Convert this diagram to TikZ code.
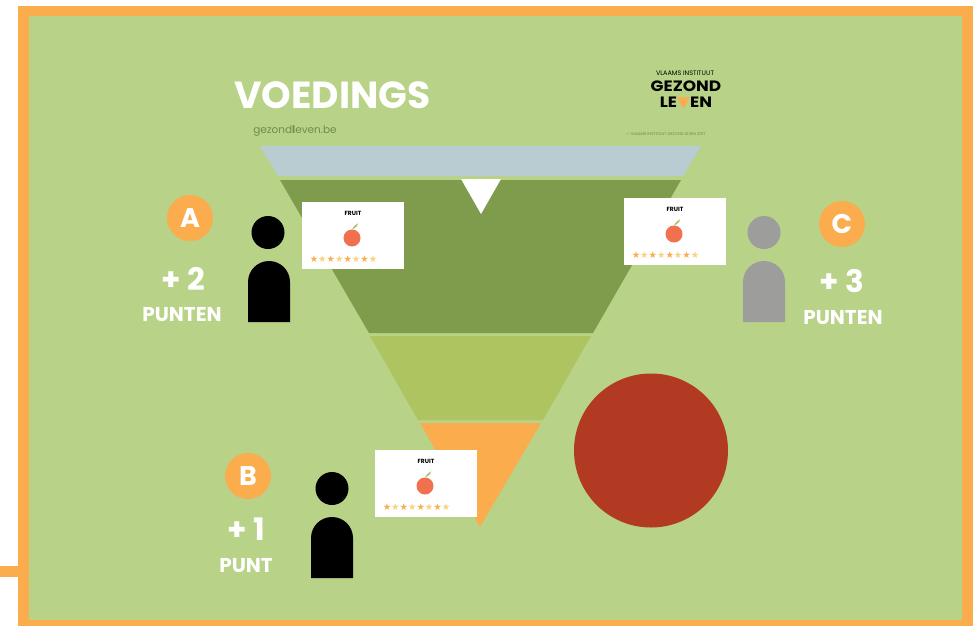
\documentclass[tikz,border=0pt]{standalone}
\usepackage{fontspec}
\setmainfont{Poppins}
\newfontfamily\symfont{DejaVu Sans}
\usepackage{xcolor}
\usetikzlibrary{positioning}

\definecolor{frameorange}{HTML}{FBAD4E}
\definecolor{fieldgreen}{HTML}{B8D287}
\definecolor{bandblue}{HTML}{B8CCD2}
\definecolor{banddark}{HTML}{7E9C4C}
\definecolor{bandolive}{HTML}{ADC461}
\definecolor{bigred}{HTML}{B33A22}
\definecolor{applered}{HTML}{F1714F}
\definecolor{leafgreen}{HTML}{A9C56C}
\definecolor{starpale}{HTML}{FBD27A}
\definecolor{personGrey}{HTML}{9D9D9C}
\definecolor{sitegreen}{HTML}{6F8F4C}

\newcommand{\cardstars}{{\symfont\color{frameorange}★\color{starpale}★\color{frameorange}★\color{starpale}★\color{frameorange}★\color{starpale}★\color{frameorange}★\color{starpale}★}}

\begin{document}
\begin{tikzpicture}[
  x=1pt, y=-1pt,
  badge/.style  = {circle, fill=frameorange, minimum size=46pt, inner sep=0pt,
                   text=white, font=\fontsize{27}{27}\selectfont\bfseries},
  score/.style  = {text=white, inner sep=0pt, font=\fontsize{31}{31}\selectfont\bfseries},
  unit/.style   = {text=white, inner sep=0pt, font=\fontsize{20}{20}\selectfont\bfseries},
  head/.style   = {circle, minimum size=33pt, inner sep=0pt},
  card/.style   = {rectangle, fill=white, minimum width=102pt, minimum height=67pt, inner sep=0pt},
  cardtitle/.style = {font=\fontsize{6}{6}\selectfont\bfseries, inner sep=0pt},
  apple/.style  = {circle, fill=applered, minimum size=17pt, inner sep=0pt},
  stars/.style  = {font=\fontsize{9.4}{10}\selectfont, inner sep=0pt},
  logoline/.style = {inner sep=0pt, text height=10.5pt, text depth=0pt, xscale=1.13, transform shape,
                   font=\fontsize{15}{15}\selectfont\bfseries}
]
\useasboundingbox (0,0) rectangle (979,626);
\fill[white] (0,0) rectangle (979,626);

% ===================== FRAME =====================
\fill[frameorange] (18,6) rectangle (973,626);
\fill[frameorange] (0,566) rectangle (18,577);
\fill[fieldgreen] (29,16) rectangle (962,619.5);

% ===================== PYRAMID =====================
\fill[bandblue]    (260,146) -- (701,146) -- (683,176) -- (278,176) -- cycle;
\fill[banddark]    (280,180) -- (681,180) -- (593,333) -- (369,333) -- cycle;
\fill[bandolive]   (370,336) -- (591,336) -- (543,420) -- (418,420) -- cycle;
\fill[frameorange] (420,423) -- (541,423) -- (480,527) -- cycle;
\fill[white]       (461,179) -- (501,179) -- (481,214) -- cycle;

\node[circle, fill=bigred, minimum size=154pt, inner sep=0pt] (bigdot) at (651,450.5) {};

% ===================== HEADER =====================
\node[text=white, inner sep=0pt, font=\fontsize{37.7}{40}\selectfont\bfseries]
  (title) at (332.5,95) {VOEDINGS};
\node[text=sitegreen, inner sep=0pt, font=\fontsize{10.5}{12}\selectfont]
  (site) at (295,131) {gezond\textbf{l}even.be};

\node[inner sep=0pt, font=\fontsize{6.5}{7}\selectfont]
  (vlaams) at (685,73) {VLAAMS INSTITUUT};
\node[logoline] (gezond) at (686,86) {GEZOND};
\node[logoline] (leven) at (686,102) {LE{\symfont\color{frameorange}▼}EN};
\node[text=sitegreen, inner sep=0pt, font=\fontsize{4}{4}\selectfont]
  (copyright) at (666,134) {© VLAAMS INSTITUUT GEZOND LEVEN 2017};

% ===================== PERSON A =====================
\node[badge] (badgeA) at (190,218) {A};
\node[score] (scoreA) at (183,279) {+ 2};
\node[unit]  (unitA)  at (182,315) {PUNTEN};
\node[head, fill=black] (headA) at (268,232.5) {};
\fill[black] (248,322) -- (248,282) arc[start angle=180, end angle=360, radius=21] -- (290,322) -- cycle;

\node[card] (cardA) at (353,235.5) {};
\node[cardtitle, below=9pt of cardA.north] (titleA) {FRUIT};
\node[apple] (appleA) at ([xshift=-1pt,yshift=-2.5pt]cardA.center) {};
\fill[leafgreen] (appleA.north) ++(0,0) -- ++(2,-3) -- ++(4,-3) -- ++(-1,3) -- ++(-4,3) -- cycle;
\node[stars, above=6pt of cardA.south, xshift=-9.5pt] (starsA) {\cardstars};

% ===================== PERSON C =====================
\node[badge] (badgeC) at (842,224) {C};
\node[score] (scoreC) at (842,281) {+ 3};
\node[unit]  (unitC)  at (843,318) {PUNTEN};
\node[head, fill=personGrey] (headC) at (764,232.5) {};
\fill[personGrey] (743,322) -- (743,282) arc[start angle=180, end angle=360, radius=21] -- (785,322) -- cycle;

\node[card] (cardC) at (675,231.5) {};
\node[cardtitle, below=9pt of cardC.north] (titleC) {FRUIT};
\node[apple] (appleC) at ([xshift=-1pt,yshift=-2.5pt]cardC.center) {};
\fill[leafgreen] (appleC.north) ++(0,0) -- ++(2,-3) -- ++(4,-3) -- ++(-1,3) -- ++(-4,3) -- cycle;
\node[stars, above=6pt of cardC.south, xshift=-9.5pt] (starsC) {\cardstars};

% ===================== PERSON B =====================
\node[badge] (badgeB) at (248,476) {B};
\node[score] (scoreB) at (246,529) {+ 1};
\node[unit]  (unitB)  at (246,566) {PUNT};
\node[head, fill=black] (headB) at (332,488.5) {};
\fill[black] (311,578) -- (311,538) arc[start angle=180, end angle=360, radius=21] -- (353,578) -- cycle;

\node[card] (cardB) at (426,483.5) {};
\node[cardtitle, below=9pt of cardB.north] (titleB) {FRUIT};
\node[apple] (appleB) at ([xshift=-1pt,yshift=-2.5pt]cardB.center) {};
\fill[leafgreen] (appleB.north) ++(0,0) -- ++(2,-3) -- ++(4,-3) -- ++(-1,3) -- ++(-4,3) -- cycle;
\node[stars, above=6pt of cardB.south, xshift=-9.5pt] (starsB) {\cardstars};

\end{tikzpicture}
\end{document}
